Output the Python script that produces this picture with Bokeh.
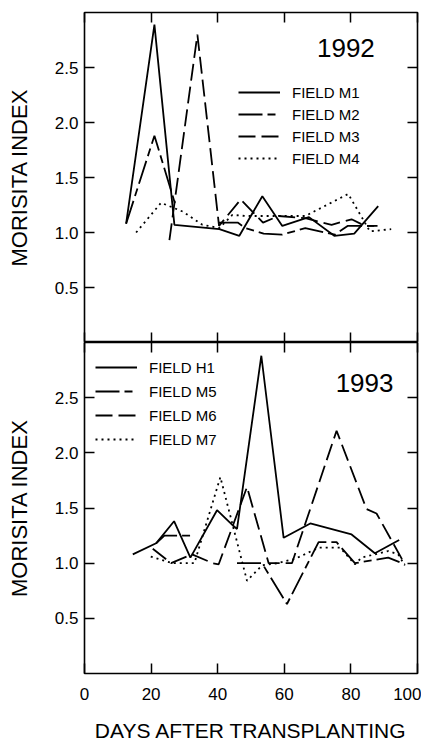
from bokeh.plotting import figure
from bokeh.layouts import column
from bokeh.models import (FixedTicker, LinearAxis, Legend, LegendItem, Label,
                          Range1d, NumeralTickFormatter, CustomLabelingPolicy)
from bokeh.embed import file_html
from bokeh.resources import INLINE

nan = float("nan")

x_ticks = [0, 20, 40, 60, 80, 100]
y_ticks = [0.5, 1.0, 1.5, 2.0, 2.5]

# ---- 1992 ----
m1_days = [12.5, 21, 27, 40.5, 46.5, 53.4, 59.4, 67.4, 75, 81, 88.2]
m1_vals = [1.08, 2.89, 1.07, 1.03, 0.97, 1.33, 1.06, 1.14, 0.97, 0.99, 1.24]
m2_days = [12.5, 21, 27.3, nan, 40.4, 46, 48.4, 53.8, 59.3, 66.3, 75.2, 79, 87]
m2_vals = [1.08, 1.88, 1.25, nan, 1.09, 1.09, 1.04, 0.99, 0.98, 1.04, 0.98, 1.06, 1.06]
m3_days = [25.5, 33.9, 40.4, 46.9, 53.6, 58.3, 66.3, 74.2, 80.2, 84.2, 88]
m3_vals = [0.93, 2.80, 1.06, 1.30, 1.09, 1.15, 1.13, 1.07, 1.12, 1.06, 1.06]
m4_days = [15.5, 23, 29.5, 35.4, 40.5, 44.4, 48.4, 54.3, 60.3, 66.3, 79.2, 84.2, 85.7, 92.1]
m4_vals = [1.0, 1.27, 1.19, 1.07, 1.04, 1.16, 1.15, 1.15, 1.15, 1.15, 1.35, 1.09, 1.01, 1.03]

# ---- 1993 ----
h1_days = [14.5, 21.5, 26.9, 31.8, 39.8, 44.3, 45.8, 53.1, 59.8, 67.8, 80.2, 87.2, 94.5]
h1_vals = [1.08, 1.18, 1.38, 1.05, 1.48, 1.35, 1.31, 2.88, 1.23, 1.36, 1.26, 1.09, 1.21]
m5_days = [21.5, 24, 31.8, nan, 45.8, 53.3, 60.8, 70.3, 75.7, 81.2, 91.2, 96.2]
m5_vals = [1.18, 1.25, 1.25, nan, 1.0, 1.0, 0.63, 1.19, 1.19, 1.0, 1.05, 0.99]
m6_days = [20.5, 26, 32.3, 38.5, 40.3, 48.8, 55.3, 62.3, 75.7, 84.7, 87.7, 96.2]
m6_vals = [1.13, 1.0, 1.08, 1.0, 0.99, 1.69, 1.0, 1.0, 2.20, 1.49, 1.45, 0.99]
m7_days = [19.9, 26.3, 33, 40.8, 48.8, 53.3, 58, 63.3, 70.3, 76.8, 81.2, 83.2, 91.2, 94.2, 96.2]
m7_vals = [1.06, 1.0, 1.0, 1.78, 0.84, 0.98, 1.0, 1.04, 1.14, 1.14, 0.99, 1.05, 1.11, 1.08, 0.98]

FONT = "Liberation Sans"
LW = 1.8
NO_LABELS = "return new Set()"


def style_axis(ax, labels):
    ax.major_tick_in = 10
    ax.major_tick_out = 0
    ax.minor_tick_in = 0
    ax.minor_tick_out = 0
    ax.axis_line_color = None
    ax.major_tick_line_color = "black"
    ax.major_tick_line_width = 1.5
    ax.major_label_text_font = FONT
    ax.major_label_text_font_size = "17px"
    ax.major_label_text_color = "black"
    ax.axis_label_text_color = "black"
    if not labels:
        ax.major_label_policy = CustomLabelingPolicy(code=NO_LABELS)
        ax.major_label_text_font_size = "0px"
        ax.major_label_standoff = 0


def make_fig(top_border, bottom_border, show_x_labels, fh):
    p = figure(frame_width=333, frame_height=fh,
               x_range=Range1d(0, 100), y_range=Range1d(0, 3.0),
               output_backend="svg", toolbar_location=None,
               min_border_left=84, min_border_right=4,
               min_border_top=top_border, min_border_bottom=bottom_border)
    p.xgrid.visible = False
    p.ygrid.visible = False
    p.outline_line_color = "black"
    p.outline_line_width = 1.6
    p.background_fill_color = "white"
    p.border_fill_color = "white"

    below = p.below[0]
    left = p.left[0]
    below.ticker = FixedTicker(ticks=x_ticks)
    left.ticker = FixedTicker(ticks=y_ticks)
    left.formatter = NumeralTickFormatter(format="0.0")
    style_axis(below, show_x_labels)
    style_axis(left, True)
    left.major_label_standoff = 6
    left.axis_label = "MORISITA INDEX"
    left.axis_label_text_font = FONT
    left.axis_label_text_font_size = "22px"
    left.axis_label_text_font_style = "normal"
    left.axis_label_standoff = 20

    top = LinearAxis(ticker=FixedTicker(ticks=x_ticks))
    style_axis(top, False)
    p.add_layout(top, "above")
    right = LinearAxis(ticker=FixedTicker(ticks=y_ticks))
    style_axis(right, False)
    p.add_layout(right, "right")
    return p


def add_legend(p, items, loc, spacing):
    lg = Legend(items=[LegendItem(label=l, renderers=[r]) for l, r in items],
                location=loc, glyph_width=42, glyph_height=20, label_height=20,
                label_standoff=12, spacing=spacing, padding=0, margin=0,
                border_line_color=None, background_fill_alpha=0,
                label_text_font=FONT, label_text_font_size="15px",
                label_text_color="black")
    p.add_layout(lg)


# Top panel
p1 = make_fig(12, 0, False, 330)
r1 = p1.line(m1_days, m1_vals, line_color="black", line_width=LW)
r2 = p1.line(m2_days, m2_vals, line_color="black", line_width=LW, line_dash="24 5 8 5")
r3 = p1.line(m3_days, m3_vals, line_color="black", line_width=LW, line_dash="17 6")
r4 = p1.line(m4_days, m4_vals, line_color="black", line_width=LW, line_dash="2 4")
add_legend(p1, [("FIELD M1", r1), ("FIELD M2", r2), ("FIELD M3", r3), ("FIELD M4", r4)],
           (154, 174), 2)
p1.add_layout(Label(x=78.5, y=2.68, text="1992", text_align="center",
                    text_baseline="middle", text_font=FONT, text_font_size="26px",
                    text_color="black"))

# Bottom panel
p2 = make_fig(0, 62, True, 331)
xb = p2.below[0]
xb.major_label_standoff = 14
xb.axis_label = "DAYS AFTER TRANSPLANTING"
xb.axis_label_text_font = FONT
xb.axis_label_text_font_size = "21px"
xb.axis_label_text_font_style = "normal"
xb.axis_label_standoff = 16
q1 = p2.line(h1_days, h1_vals, line_color="black", line_width=LW)
q2 = p2.line(m5_days, m5_vals, line_color="black", line_width=LW, line_dash="24 5 8 5")
q3 = p2.line(m6_days, m6_vals, line_color="black", line_width=LW, line_dash="17 6")
q4 = p2.line(m7_days, m7_vals, line_color="black", line_width=LW, line_dash="2 4")
add_legend(p2, [("FIELD H1", q1), ("FIELD M5", q2), ("FIELD M6", q3), ("FIELD M7", q4)],
           (11, 224), 4)
p2.add_layout(Label(x=84.1, y=2.63, text="1993", text_align="center",
                    text_baseline="middle", text_font=FONT, text_font_size="26px",
                    text_color="black"))

layout = column(p1, p2, spacing=0)
open("out.html", "w").write(file_html(layout, INLINE))
